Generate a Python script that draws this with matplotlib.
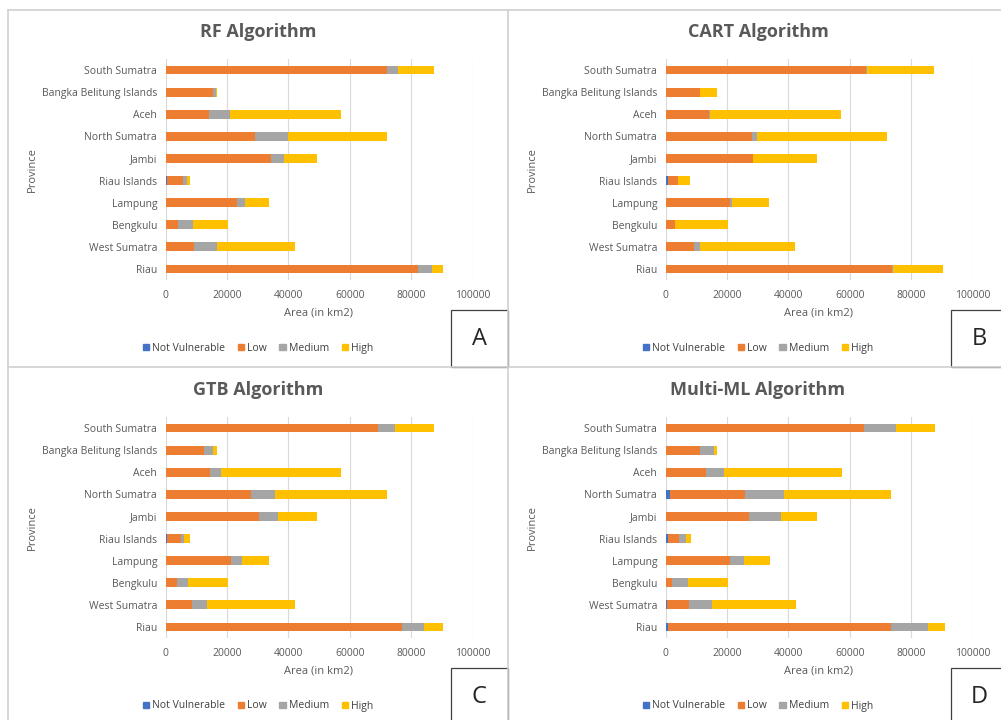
import matplotlib.pyplot as plt
from matplotlib.patches import Patch, Rectangle
from matplotlib.lines import Line2D

plt.rcParams['font.family'] = ['Open Sans', 'DejaVu Sans']

# provinces listed from the bottom bar to the top bar
provincias = ['Riau', 'West Sumatra', 'Bengkulu', 'Lampung', 'Riau Islands',
              'Jambi', 'North Sumatra', 'Aceh', 'Bangka Belitung Islands',
              'South Sumatra']
clases = ['Not Vulnerable', 'Low', 'Medium', 'High']
colores = ['#4472C4', '#ED7D31', '#A5A5A5', '#FFC000']
ticks_x = [0, 20000, 40000, 60000, 80000, 100000]

# areas in km2 per vulnerability class
rf_not = [0, 0, 0, 0, 650, 0, 0, 0, 0, 0]
rf_low = [82100, 9200, 4100, 23200, 5200, 34500, 29300, 14300, 15500, 72000]
rf_med = [4600, 7600, 4900, 2800, 1300, 4200, 10600, 6600, 1000, 3800]
rf_high = [3800, 25500, 11300, 7800, 950, 10700, 32100, 36300, 300, 11600]

cart_not = [0, 0, 0, 0, 750, 0, 0, 0, 0, 0]
cart_low = [73800, 9400, 3000, 21000, 3450, 28400, 28200, 14300, 11300, 65400]
cart_med = [300, 1700, 0, 700, 0, 100, 1600, 300, 0, 200]
cart_high = [16400, 31200, 17300, 12000, 3900, 21000, 42300, 42700, 5400, 21900]

gtb_not = [0, 0, 0, 0, 650, 0, 0, 0, 0, 0]
gtb_low = [77000, 8600, 3800, 21200, 4250, 30300, 27700, 14400, 12600, 69100]
gtb_med = [7300, 4900, 3400, 3800, 1200, 6500, 8100, 3700, 2800, 5500]
gtb_high = [6200, 28800, 13100, 8700, 2000, 12700, 36200, 39100, 1300, 12800]

ml_not = [800, 500, 100, 0, 900, 0, 1400, 300, 0, 200]
ml_low = [72700, 7300, 2100, 20900, 3400, 27100, 24500, 12800, 11300, 64400]
ml_med = [11900, 7300, 5100, 4600, 2300, 10400, 12800, 5900, 4500, 10500]
ml_high = [5600, 27400, 13000, 8500, 1600, 12000, 34600, 38400, 1000, 12700]

W, H = 1001, 720
fig = plt.figure(figsize=(W / 100, H / 100), dpi=100)


def fx(px):
    return px / W


def fy(py):
    return 1 - py / H


def panel(x0, y0, series, titulo, letra):
    # x0, y0: pixel offset of the panel (top-left)
    izq, der = x0 + 157.5, x0 + 464.5
    arriba, abajo = y0 + 49, y0 + 270
    ax = fig.add_axes([fx(izq), fy(abajo), fx(der - izq), (abajo - arriba) / H])
    y = range(len(provincias))
    base = [0] * len(provincias)
    for vals, c in zip(series, colores):
        ax.barh(y, vals, left=base, height=0.4, color=c, zorder=3)
        base = [b + v for b, v in zip(base, vals)]
    ax.set_xlim(0, 100000)
    ax.set_ylim(-0.5, len(provincias) - 0.5)
    ax.set_xticks(ticks_x)
    ax.set_yticks(list(y))
    ax.set_yticklabels(provincias)
    ax.tick_params(length=0, labelsize=7.5, labelcolor='#595959', pad=6)
    ax.tick_params(axis='x', pad=7)
    ax.grid(axis='x', color='#D9D9D9', linewidth=0.8, zorder=0)
    for s in ax.spines.values():
        s.set_visible(False)

    cx = x0 + 250
    fig.text(fx(cx), fy(y0 + 22), titulo, ha='center', va='center',
             fontsize=13, fontweight='bold', color='#595959')
    fig.text(fx((izq + der) / 2), fy(y0 + 303), 'Area (in km2)', ha='center',
             va='center', fontsize=8, color='#595959')
    fig.text(fx(x0 + 24), fy((arriba + abajo) / 2), 'Province', rotation=90,
             ha='center', va='center', fontsize=8, color='#595959')
    handles = [Patch(color=c, label=l) for c, l in zip(colores, clases)]
    fig.legend(handles=handles, loc='center', ncol=4, frameon=False,
               bbox_to_anchor=(fx(cx), fy(y0 + 338)), fontsize=7.5,
               labelcolor='#404040', handlelength=0.6, handleheight=0.6,
               handletextpad=0.3, columnspacing=1.2)
    # letter box in the lower right corner
    fig.patches.append(Rectangle((fx(x0 + 443), fy(y0 + 357)), fx(57), 57 / H,
                                 transform=fig.transFigure, fill=False,
                                 edgecolor='#404040', linewidth=0.9))
    fig.text(fx(x0 + 471), fy(y0 + 329), letra, ha='center', va='center',
             fontsize=17, color='#262626')
    return ax


panel(8, 10, [rf_not, rf_low, rf_med, rf_high], 'RF Algorithm', 'A')
panel(508, 10, [cart_not, cart_low, cart_med, cart_high], 'CART Algorithm', 'B')
panel(8, 368, [gtb_not, gtb_low, gtb_med, gtb_high], 'GTB Algorithm', 'C')
panel(508, 368, [ml_not, ml_low, ml_med, ml_high], 'Multi-ML Algorithm', 'D')

# panel borders
for xs, ys in [([8, W], [10, 10]), ([8, W], [367, 367]),
               ([8, 8], [10, H]), ([508, 508], [10, H])]:
    fig.lines.append(Line2D([fx(v) for v in xs], [fy(v) for v in ys],
                            transform=fig.transFigure, color='#D0D0D0',
                            linewidth=1.2))

fig.savefig('out.png', dpi=100, facecolor='white')
